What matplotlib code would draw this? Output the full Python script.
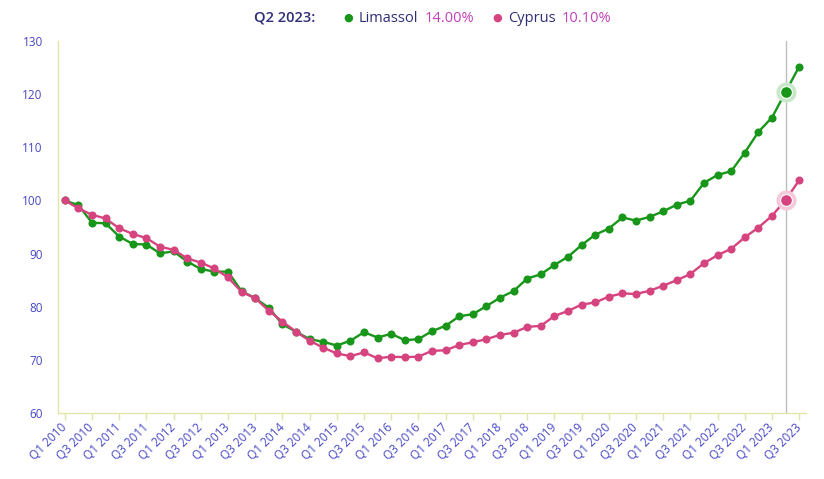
import matplotlib
matplotlib.use("Agg")
import matplotlib.pyplot as plt

# ===== DATA (index, Q1 2010 = 100) =====
quarters = [f"Q{q} {y}" for y in range(2010, 2024) for q in range(1, 5)][:55]

limassol = [100.0, 99.1, 95.8, 95.7,
            93.2, 91.8, 91.7, 90.05,
            90.4, 88.5, 87.1, 86.6,
            86.6, 82.9, 81.6, 79.8,
            76.7, 75.3, 73.9, 73.4,
            72.7, 73.6, 75.2, 74.2,
            74.9, 73.7, 73.9, 75.4,
            76.4, 78.2, 78.6, 80.1,
            81.7, 82.95, 85.3, 86.1,
            87.85, 89.4, 91.6, 93.55,
            94.7, 96.8, 96.2, 96.9,
            97.95, 99.2, 99.95, 103.3,
            104.8, 105.5, 109.0, 112.9,
            115.6, 120.4, 125.2]

cyprus = [100.0, 98.5, 97.3, 96.6,
          94.75, 93.7, 92.9, 91.3,
          90.7, 89.1, 88.3, 87.2,
          85.5, 82.8, 81.6, 79.25,
          77.2, 75.3, 73.6, 72.3,
          71.2, 70.7, 71.4, 70.3,
          70.6, 70.5, 70.6, 71.7,
          71.8, 72.8, 73.3, 73.9,
          74.7, 75.1, 76.2, 76.4,
          78.25, 79.2, 80.4, 80.8,
          81.9, 82.5, 82.4, 83.0,
          83.95, 85.0, 86.15, 88.2,
          89.7, 90.9, 93.05, 94.9,
          97.1, 100.1, 103.8]

highlight = "Q2 2023"
limassol_yoy = "14.00%"
cyprus_yoy = "10.10%"

# ===== STYLE =====
GREEN = "#17961a"
PINK = "#d6447f"
AXIS = "#e2e6a6"
TICK_TXT = "#4747c4"
HEAD_TXT = "#2e2e78"
PCT = "#c23fba"

plt.rcParams['font.family'] = ['Open Sans', 'DejaVu Sans']

W, H = 824, 479
fig = plt.figure(figsize=(W / 100, H / 100), dpi=100)
left, right, top, bottom = 58, 806, 41, 413
ax = fig.add_axes([left / W, 1 - bottom / H, (right - left) / W, (bottom - top) / H])

x = list(range(len(quarters)))
hi = quarters.index(highlight)

ax.axvline(hi, color="#bdbdbd", lw=1, zorder=1)

for series, color, halo in [(limassol, GREEN, "#c9e7c9"), (cyprus, PINK, "#f4cadb")]:
    ax.plot(x, series, color=color, lw=1.7, marker="o", markersize=5.8,
            markeredgewidth=0, zorder=3)
    ax.plot(hi, series[hi], marker="o", markersize=14.5, color=halo,
            markeredgewidth=0, zorder=4)
    ax.plot(hi, series[hi], marker="o", markersize=8.5, color=color,
            markeredgecolor="white", markeredgewidth=0.8, zorder=5)

ax.set_xlim(-0.5, len(quarters) - 0.5)
ax.set_ylim(60, 130)
ax.set_yticks(range(60, 131, 10))
ax.set_xticks(x[::2])
ax.set_xticklabels(quarters[::2], rotation=45, ha="right", va="center",
                   rotation_mode="anchor")

ax.tick_params(axis="y", length=0, pad=11, labelsize=8.5, labelcolor=TICK_TXT)
ax.tick_params(axis="x", length=5, width=1, color=AXIS, pad=4,
               labelsize=8.5, labelcolor=TICK_TXT)

for side in ["top", "right"]:
    ax.spines[side].set_visible(False)
for side in ["left", "bottom"]:
    ax.spines[side].set_color(AXIS)
    ax.spines[side].set_linewidth(1)

# ===== HEADER (pieces laid out left to right) =====
renderer = fig.canvas.get_renderer()
ty = 1 - 18 / H
pieces = [
    (f"{highlight}:", HEAD_TXT, "semibold", None, 0),
    ("\u25cf", GREEN, "normal", "DejaVu Sans", 28),
    ("Limassol", HEAD_TXT, "normal", None, 6),
    (limassol_yoy, PCT, "normal", None, 6),
    ("\u25cf", PINK, "normal", "DejaVu Sans", 18),
    ("Cyprus", HEAD_TXT, "normal", None, 6),
    (cyprus_yoy, PCT, "normal", None, 6),
]
xpos = 254
for txt, color, weight, fam, gap in pieces:
    xpos += gap
    kw = dict(color=color, fontsize=8 if fam else 10.5, fontweight=weight, va="center")
    if fam:
        kw["family"] = fam
    t = fig.text(xpos / W, ty, txt, **kw)
    xpos = t.get_window_extent(renderer).x1

fig.savefig("out.png", dpi=100)
